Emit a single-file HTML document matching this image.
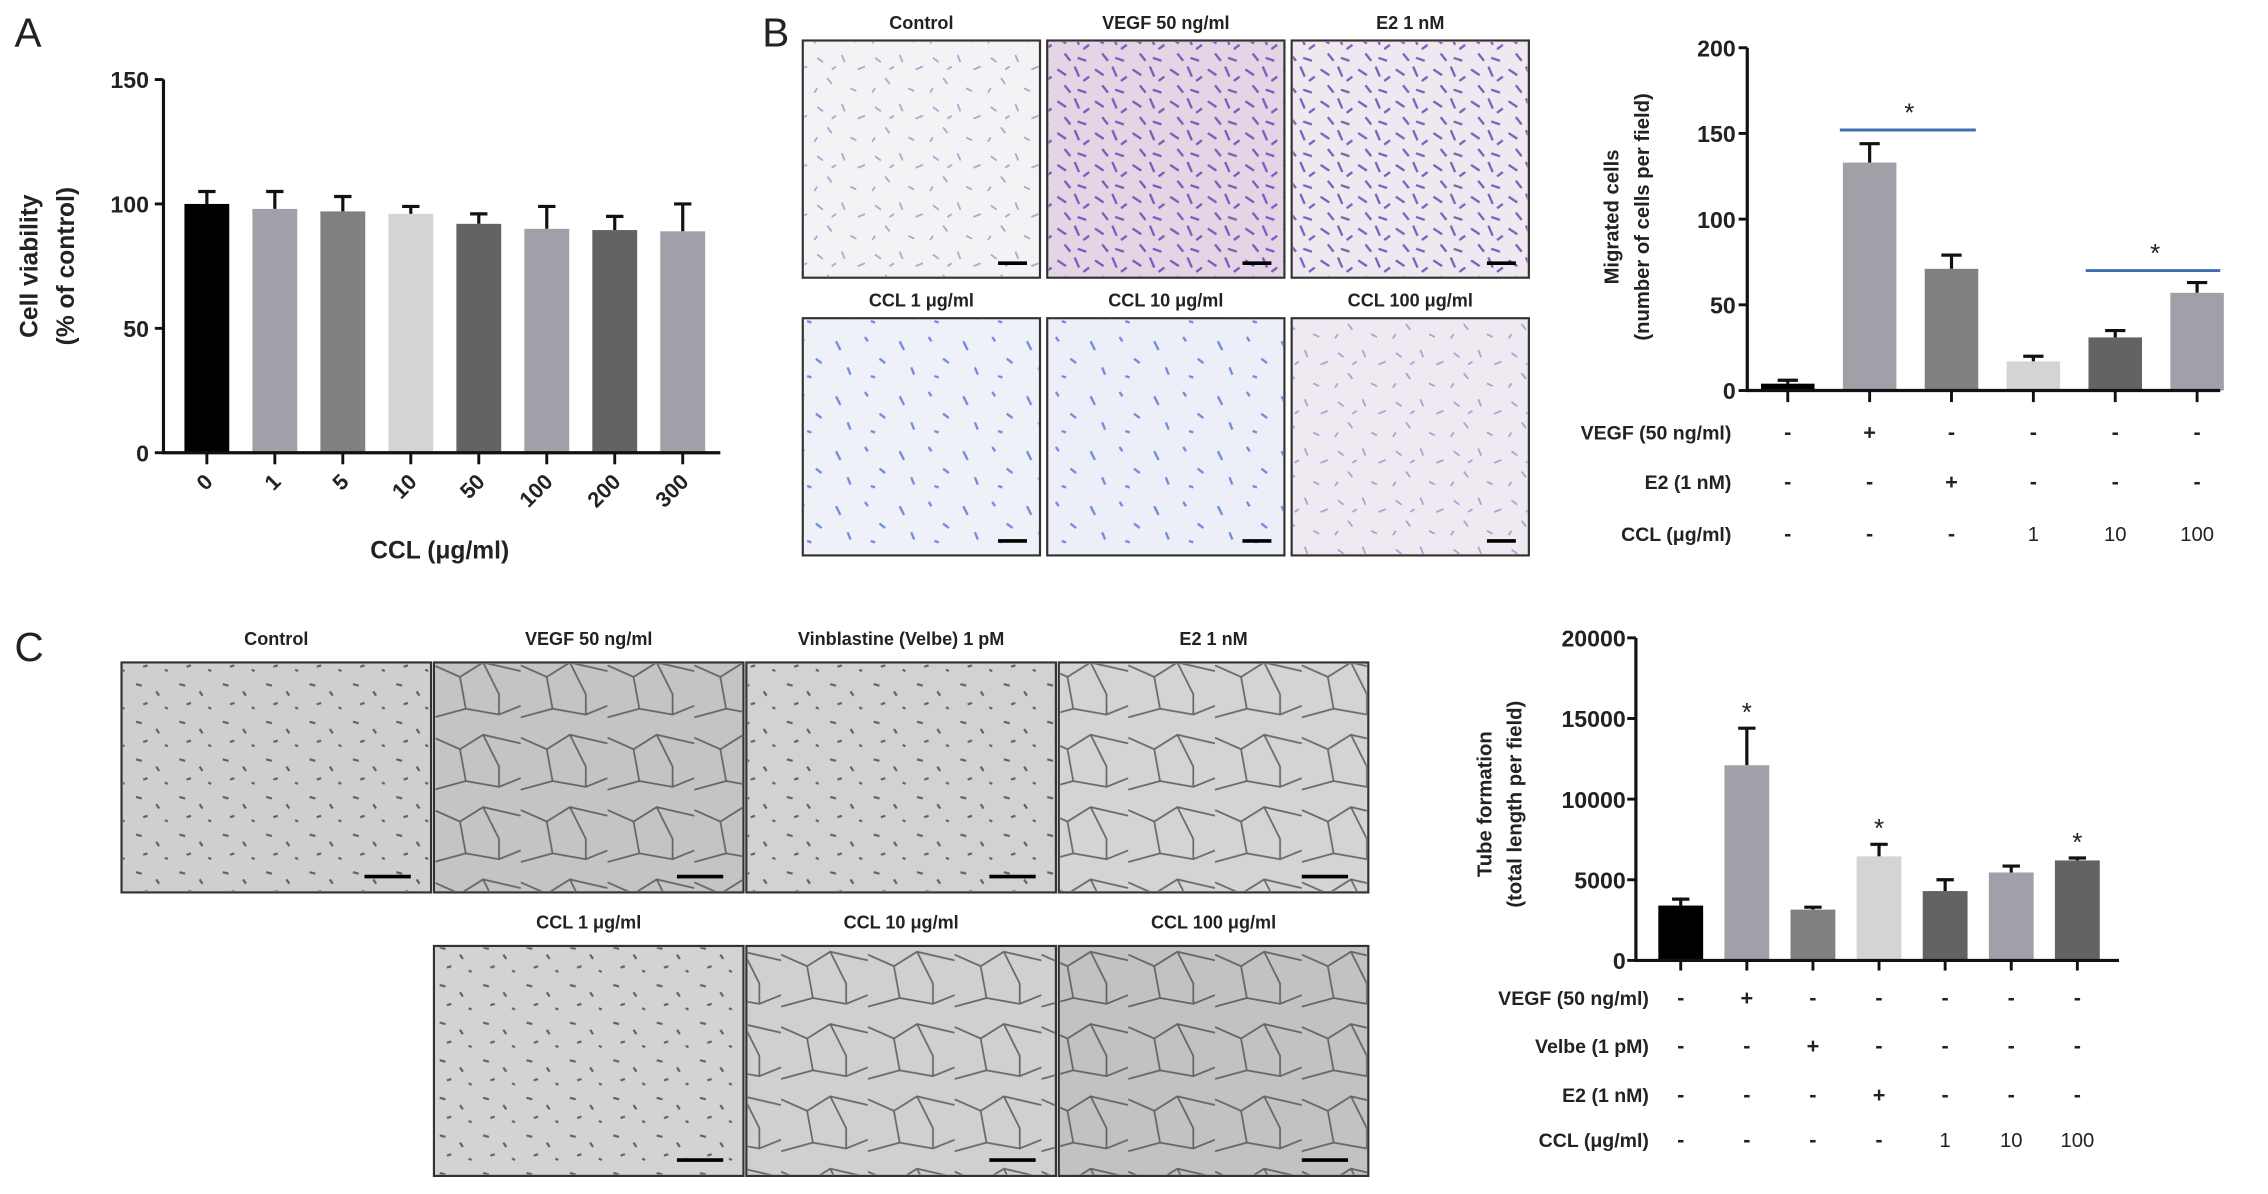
<!DOCTYPE html>
<html><head><meta charset="utf-8"><style>
html,body{margin:0;padding:0;background:#fff}
svg{display:block}
text{font-family:"Liberation Sans",sans-serif;fill:#222}
.b{font-weight:bold}
</style></head><body>
<svg id="fig" width="2268" height="1194" viewBox="0 0 1568 825.5" xmlns="http://www.w3.org/2000/svg">
<defs>
<pattern id="cells" width="40" height="34" patternUnits="userSpaceOnUse">
<path d="M5 6 l4 3 M22 4 l2 5 M33 14 l5 -2 M12 20 l3 4 M28 27 l4 2 M3 30 l2 -3 M18 12 l-3 2" stroke="#7a6bc0" stroke-width="1.2" opacity="0.6"/>
</pattern>
<pattern id="cellsDense" width="26" height="22" patternUnits="userSpaceOnUse">
<path d="M3 4 l6 4 M15 2 l3 7 M21 12 l4 -3 M8 15 l4 5 M17 18 l6 2" stroke="#5a3fae" stroke-width="1.6" opacity="0.8"/>
</pattern>
<pattern id="cellsBlue" width="44" height="38" patternUnits="userSpaceOnUse">
<path d="M6 8 l3 6 M26 5 l2 3 M36 20 l4 3 M14 26 l2 5 M30 32 l3 1" stroke="#3a5fcf" stroke-width="1.6" opacity="0.7"/>
</pattern>
<pattern id="tubes" width="60" height="50" patternUnits="userSpaceOnUse">
<path d="M0 10 L18 18 L34 8 L60 14 M18 18 L22 40 L45 44 L60 38 M34 8 L45 30 L45 44 M22 40 L0 46" stroke="#444" stroke-width="1.2" fill="none" opacity="0.75"/>
</pattern>
<pattern id="dots" width="30" height="26" patternUnits="userSpaceOnUse">
<path d="M4 5 l4 1 M18 10 l2 3 M9 19 l3 -1 M24 21 l2 1" stroke="#444" stroke-width="1.5" opacity="0.8"/>
</pattern>
</defs>

<!-- panel letters -->
<text x="10" y="32" font-size="28">A</text>
<text x="527" y="32" font-size="28">B</text>
<text x="10" y="457" font-size="28">C</text>

<g id="chartA"></g>
<g id="imagesB"></g>
<g id="chartB"></g>
<g id="imagesC"></g>
<g id="chartC"></g>
</svg>
<script>
// ---------- Data ----------
const aCategories = ['0','1','5','10','50','100','200','300'];
const aValues = [100, 98, 97, 96, 92, 90, 89.5, 89];
const aErrTop = [105, 105, 103, 99, 96, 99, 95, 100];
const aTicks = [0, 50, 100, 150];

const bValues = [4, 133, 71, 17, 31, 57];
const bErrTop = [6, 144, 79, 20, 35, 63];
const bTicks = [0, 50, 100, 150, 200];
const bRowVEGF = ['-','+','-','-','-','-'];
const bRowE2 = ['-','-','+','-','-','-'];
const bRowCCL = ['-','-','-','1','10','100'];

const cValues = [3400, 12100, 3150, 6450, 4300, 5450, 6200];
const cErrTop = [3800, 14400, 3300, 7200, 5000, 5850, 6350];
const cTicks = [0, 5000, 10000, 15000, 20000];
const cStars = [false, true, false, true, false, false, true];
const cRowVEGF = ['-','+','-','-','-','-','-'];
const cRowVelbe = ['-','-','+','-','-','-','-'];
const cRowE2 = ['-','-','-','+','-','-','-'];
const cRowCCL = ['-','-','-','-','1','10','100'];

const NS = 'http://www.w3.org/2000/svg';
function mk(tag, attrs, parent, txt){
  const e = document.createElementNS(NS, tag);
  for (const k in attrs) e.setAttribute(k, attrs[k]);
  if (txt !== undefined) e.textContent = txt;
  parent.appendChild(e);
  return e;
}
function lin(d0,d1,r0,r1){return v=>r0+(v-d0)*(r1-r0)/(d1-d0);}

// ---------- Panel A ----------
(function(){
  const g = document.getElementById('chartA');
  const y = lin(0,150,313,55);
  const x0 = 143, step = 47, bw = 31;
  const x = i => x0 + i*step;
  const cols = ['#000','#a0a0a8','#808080','#d4d4d4','#636363','#a0a0a8','#636363','#a0a0a8'];
  aValues.forEach((v,i)=>{
    const ey = mk('line',{x1:x(i),x2:x(i),y1:y(aErrTop[i]),y2:y(v),stroke:'#111','stroke-width':2.2},g);
    
    
    const cap = mk('line',{x1:x(i)-6,x2:x(i)+6,y1:y(aErrTop[i]),y2:y(aErrTop[i]),stroke:'#111','stroke-width':2.2},g);
    
    
    const r = mk('rect',{x:x(i)-bw/2,y:y(v),width:bw,height:y(0)-y(v),fill:cols[i]},g);
    
    
    const t = mk('line',{x1:x(i),x2:x(i),y1:y(0),y2:y(0)+8,stroke:'#111','stroke-width':2},g);
    
    
    const lb = mk('text',{x:x(i)+5,y:334,'font-size':15,'font-weight':'bold','text-anchor':'end',transform:`rotate(-45 ${x(i)+5} 334)`},g,aCategories[i]);
    
    
  });
  const ax = mk('path',{d:`M113 ${y(150)} V${y(0)} H498`,stroke:'#111','stroke-width':2.2,fill:'none'},g);
  
  
  aTicks.forEach(t=>{
    mk('line',{x1:107,x2:113,y1:y(t),y2:y(t),stroke:'#111','stroke-width':2},g);
    const tl = mk('text',{x:103,y:y(t)+6,'font-size':16,'font-weight':'bold','text-anchor':'end'},g,t);
    
    
  });
  const yt = mk('text',{x:0,y:0,'font-size':17,'font-weight':'bold','text-anchor':'middle',transform:'translate(26 184) rotate(-90)'},g,'Cell viability');
  
  
  mk('text',{x:0,y:0,'font-size':17,'font-weight':'bold','text-anchor':'middle',transform:'translate(51 184) rotate(-90)'},g,'(% of control)');
  const xt = mk('text',{x:304,y:386,'font-size':17,'font-weight':'bold','text-anchor':'middle'},g,'CCL (μg/ml)');
  
  
})();

// ---------- Micrographs B ----------
(function(){
  const g = document.getElementById('imagesB');
  const boxes = [
    [555,28,'Control','#f4f2f4','url(#cells)'],
    [724,28,'VEGF 50 ng/ml','#e4d4e6','url(#cellsDense)'],
    [893,28,'E2 1 nM','#efe8f0','url(#cellsDense)'],
    [555,220,'CCL 1 μg/ml','#eef1f7','url(#cellsBlue)'],
    [724,220,'CCL 10 μg/ml','#eceff7','url(#cellsBlue)'],
    [893,220,'CCL 100 μg/ml','#efeaf2','url(#cells)']
  ];
  boxes.forEach(b=>{
    const r = mk('rect',{x:b[0],y:b[1],width:164,height:164,fill:b[3],stroke:'#333','stroke-width':1.5},g);
    
    
    mk('rect',{x:b[0]+1,y:b[1]+1,width:162,height:162,fill:b[4]},g);
    mk('line',{x1:b[0]+135,x2:b[0]+155,y1:b[1]+154,y2:b[1]+154,stroke:'#000','stroke-width':2.5},g);
    const t = mk('text',{x:b[0]+82,y:b[1]-8,'font-size':12.5,'font-weight':'bold','text-anchor':'middle'},g,b[2]);
    
    
  });
})();

// ---------- Panel B chart ----------
(function(){
  const g = document.getElementById('chartB');
  const y = lin(0,200,270,33);
  const x = i => 1236 + i*56.6;
  const bw = 37;
  const cols = ['#000','#a0a0a8','#808080','#d4d4d4','#636363','#a0a0a8'];
  bValues.forEach((v,i)=>{
    mk('line',{x1:x(i),x2:x(i),y1:y(bErrTop[i]),y2:y(v),stroke:'#111','stroke-width':2.2},g);
    mk('line',{x1:x(i)-7,x2:x(i)+7,y1:y(bErrTop[i]),y2:y(bErrTop[i]),stroke:'#111','stroke-width':2.2},g);
    const r = mk('rect',{x:x(i)-bw/2,y:y(v),width:bw,height:y(0)-y(v),fill:cols[i]},g);
    
    
    mk('line',{x1:x(i),x2:x(i),y1:y(0),y2:y(0)+8,stroke:'#111','stroke-width':2},g);
    [[bRowVEGF,299],[bRowE2,333],[bRowCCL,369]].forEach(rw=>{
      const s = rw[0][i];
      const tt = mk('text',{x:x(i),y:rw[1]+5,'font-size':s==='-'||s==='+'?15:14,'font-weight':s==='-'||s==='+'?'bold':'normal','text-anchor':'middle'},g,s);
      
      
    });
  });
  mk('path',{d:`M1208 ${y(200)} V${y(0)} H1535`,stroke:'#111','stroke-width':2.2,fill:'none'},g);
  bTicks.forEach(t=>{
    mk('line',{x1:1202,x2:1208,y1:y(t),y2:y(t),stroke:'#111','stroke-width':2},g);
    const tl = mk('text',{x:1200,y:y(t)+6,'font-size':16,'font-weight':'bold','text-anchor':'end'},g,t);
    
    
  });
  // significance lines
  const s1 = mk('line',{x1:1272,x2:1366,y1:y(152),y2:y(152),stroke:'#3f6fb0','stroke-width':2},g);
  
  
  mk('text',{x:1320,y:y(152)-6,'font-size':18,'text-anchor':'middle'},g,'*');
  const s2 = mk('line',{x1:1442,x2:1535,y1:y(70),y2:y(70),stroke:'#3f6fb0','stroke-width':2},g);
  
  
  mk('text',{x:1490,y:y(70)-6,'font-size':18,'text-anchor':'middle'},g,'*');
  const yt = mk('text',{x:0,y:0,'font-size':14,'font-weight':'bold','text-anchor':'middle',transform:'translate(1119 150) rotate(-90)'},g,'Migrated cells');
  
  
  mk('text',{x:0,y:0,'font-size':14,'font-weight':'bold','text-anchor':'middle',transform:'translate(1140 150) rotate(-90)'},g,'(number of cells per field)');
  [['VEGF (50 ng/ml)',299],['E2 (1 nM)',333],['CCL (μg/ml)',369]].forEach(l=>{
    const t = mk('text',{x:1197,y:l[1]+5,'font-size':13.5,'font-weight':'bold','text-anchor':'end'},g,l[0]);
    
    
  });
})();

// ---------- Micrographs C ----------
(function(){
  const g = document.getElementById('imagesC');
  const boxes = [
    [84,458,'Control','#cfcfcf','url(#dots)'],
    [300,458,'VEGF 50 ng/ml','#c4c4c4','url(#tubes)'],
    [516,458,'Vinblastine (Velbe) 1 pM','#d2d2d2','url(#dots)'],
    [732,458,'E2 1 nM','#d4d4d4','url(#tubes)'],
    [300,654,'CCL 1 μg/ml','#d3d3d3','url(#dots)'],
    [516,654,'CCL 10 μg/ml','#d0d0d0','url(#tubes)'],
    [732,654,'CCL 100 μg/ml','#c2c2c2','url(#tubes)']
  ];
  boxes.forEach(b=>{
    const r = mk('rect',{x:b[0],y:b[1],width:214,height:159,fill:b[3],stroke:'#333','stroke-width':1.5},g);
    
    
    mk('rect',{x:b[0]+1,y:b[1]+1,width:212,height:157,fill:b[4]},g);
    mk('line',{x1:b[0]+168,x2:b[0]+200,y1:b[1]+148,y2:b[1]+148,stroke:'#000','stroke-width':2.5},g);
    const t = mk('text',{x:b[0]+107,y:b[1]-12,'font-size':12.5,'font-weight':'bold','text-anchor':'middle'},g,b[2]);
    
    
  });
})();

// ---------- Panel C chart ----------
(function(){
  const g = document.getElementById('chartC');
  const y = lin(0,20000,664,441);
  const x = i => 1162 + i*45.7;
  const bw = 31;
  const cols = ['#000','#a0a0a8','#808080','#d4d4d4','#636363','#a0a0a8','#636363'];
  cValues.forEach((v,i)=>{
    mk('line',{x1:x(i),x2:x(i),y1:y(cErrTop[i]),y2:y(v),stroke:'#111','stroke-width':2.2},g);
    mk('line',{x1:x(i)-6,x2:x(i)+6,y1:y(cErrTop[i]),y2:y(cErrTop[i]),stroke:'#111','stroke-width':2.2},g);
    const r = mk('rect',{x:x(i)-bw/2,y:y(v),width:bw,height:y(0)-y(v),fill:cols[i]},g);
    
    
    mk('line',{x1:x(i),x2:x(i),y1:y(0),y2:y(0)+7,stroke:'#111','stroke-width':2},g);
    if (cStars[i]) {
      const st = mk('text',{x:x(i),y:y(cErrTop[i])-5,'font-size':18,'text-anchor':'middle'},g,'*');
      
      
    }
    [[cRowVEGF,690],[cRowVelbe,723],[cRowE2,757],[cRowCCL,788]].forEach(rw=>{
      const s = rw[0][i];
      const tt = mk('text',{x:x(i),y:rw[1]+5,'font-size':s==='-'||s==='+'?15:14,'font-weight':s==='-'||s==='+'?'bold':'normal','text-anchor':'middle'},g,s);
      
      
    });
  });
  mk('path',{d:`M1131 ${y(20000)} V${y(0)} H1465`,stroke:'#111','stroke-width':2.2,fill:'none'},g);
  cTicks.forEach(t=>{
    mk('line',{x1:1125,x2:1131,y1:y(t),y2:y(t),stroke:'#111','stroke-width':2},g);
    const tl = mk('text',{x:1124,y:y(t)+6,'font-size':16,'font-weight':'bold','text-anchor':'end'},g,t);
    
    
  });
  const yt = mk('text',{x:0,y:0,'font-size':14,'font-weight':'bold','text-anchor':'middle',transform:'translate(1031 556) rotate(-90)'},g,'Tube formation');
  
  
  mk('text',{x:0,y:0,'font-size':14,'font-weight':'bold','text-anchor':'middle',transform:'translate(1052 556) rotate(-90)'},g,'(total length per field)');
  [['VEGF (50 ng/ml)',690],['Velbe (1 pM)',723],['E2 (1 nM)',757],['CCL (μg/ml)',788]].forEach(l=>{
    const t = mk('text',{x:1140,y:l[1]+5,'font-size':13.5,'font-weight':'bold','text-anchor':'end'},g,l[0]);
    
    
  });
})();
</script>
</body></html>
